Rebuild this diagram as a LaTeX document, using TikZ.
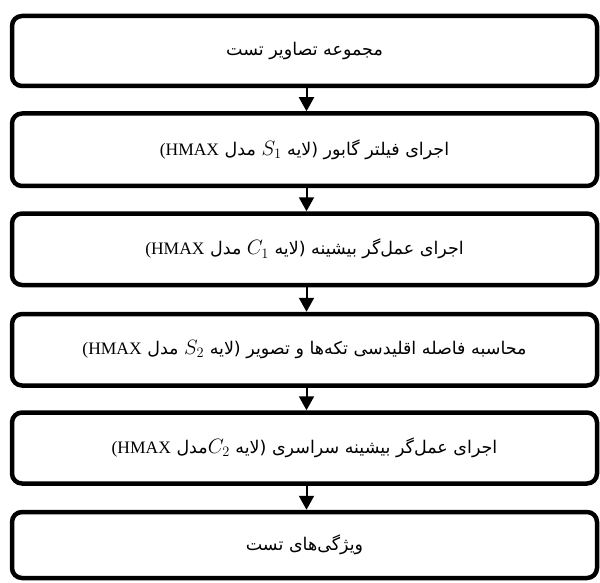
\documentclass[tikz,border=0pt]{standalone}
\usepackage{fontspec}
\setmainfont{Liberation Serif}
\newfontfamily\fa[Script=Arabic]{DejaVu Sans}
\usetikzlibrary{arrows.meta}
\TeXXeTstate=1
\newcommand\layervar[2]{{\fontsize{21pt}{21pt}\selectfont$#1_{#2}$}}
\tikzset{
  stepbox/.style={draw, line width=4.5pt, rounded corners=10pt, minimum width=585pt, inner sep=0pt, font=\fontsize{17.5pt}{21pt}\selectfont},
  flow/.style={line width=2pt, -{Triangle[width=15pt,length=14pt]}}
}
\begin{document}
\begin{tikzpicture}
\useasboundingbox (0pt,0pt) rectangle (600pt,-583pt);
\node[stepbox, minimum height=70pt] (b1) at (304.5pt,-51pt) {\fa\beginR مجموعه تصاویر تست\endR};
\node[stepbox, minimum height=72.5pt] (b2) at (304.5pt,-149.75pt) {\fa\beginR اجرای فیلتر گابور (لایه  \beginL\layervar{S}{1}\endL{} مدل \beginL{\rmfamily (HMAX}\endL\endR};
\node[stepbox, minimum height=71.5pt] (b3) at (304.5pt,-249.25pt) {\fa\beginR اجرای عمل^^^^200cگر بیشینه (لایه  \beginL\layervar{C}{1}\endL{}  مدل \beginL{\rmfamily (HMAX}\endL\endR};
\node[stepbox, minimum height=71.5pt] (b4) at (304.5pt,-349.75pt) {\fa\beginR محاسبه فاصله اقلیدسی تکه^^^^200cها و تصویر (لایه  \beginL\layervar{S}{2}\endL{}  مدل \beginL{\rmfamily (HMAX}\endL\endR};
\node[stepbox, minimum height=71pt] (b5) at (304.5pt,-448pt) {\fa\beginR اجرای عمل^^^^200cگر بیشینه سراسری (لایه  \beginL\layervar{C}{2}\endL{}مدل \beginL{\rmfamily (HMAX}\endL\endR};
\node[stepbox, minimum height=66pt] (b6) at (304.5pt,-545pt) {\fa\beginR ویژگی^^^^200cهای تست\endR};
\draw[flow] ([xshift=2pt]b1.south) -- ([xshift=2pt]b2.north);
\draw[flow] ([xshift=2pt]b2.south) -- ([xshift=2pt]b3.north);
\draw[flow] ([xshift=2pt]b3.south) -- ([xshift=2pt]b4.north);
\draw[flow] ([xshift=2pt]b4.south) -- ([xshift=2pt]b5.north);
\draw[flow] ([xshift=2pt]b5.south) -- ([xshift=2pt]b6.north);
\end{tikzpicture}
\end{document}
